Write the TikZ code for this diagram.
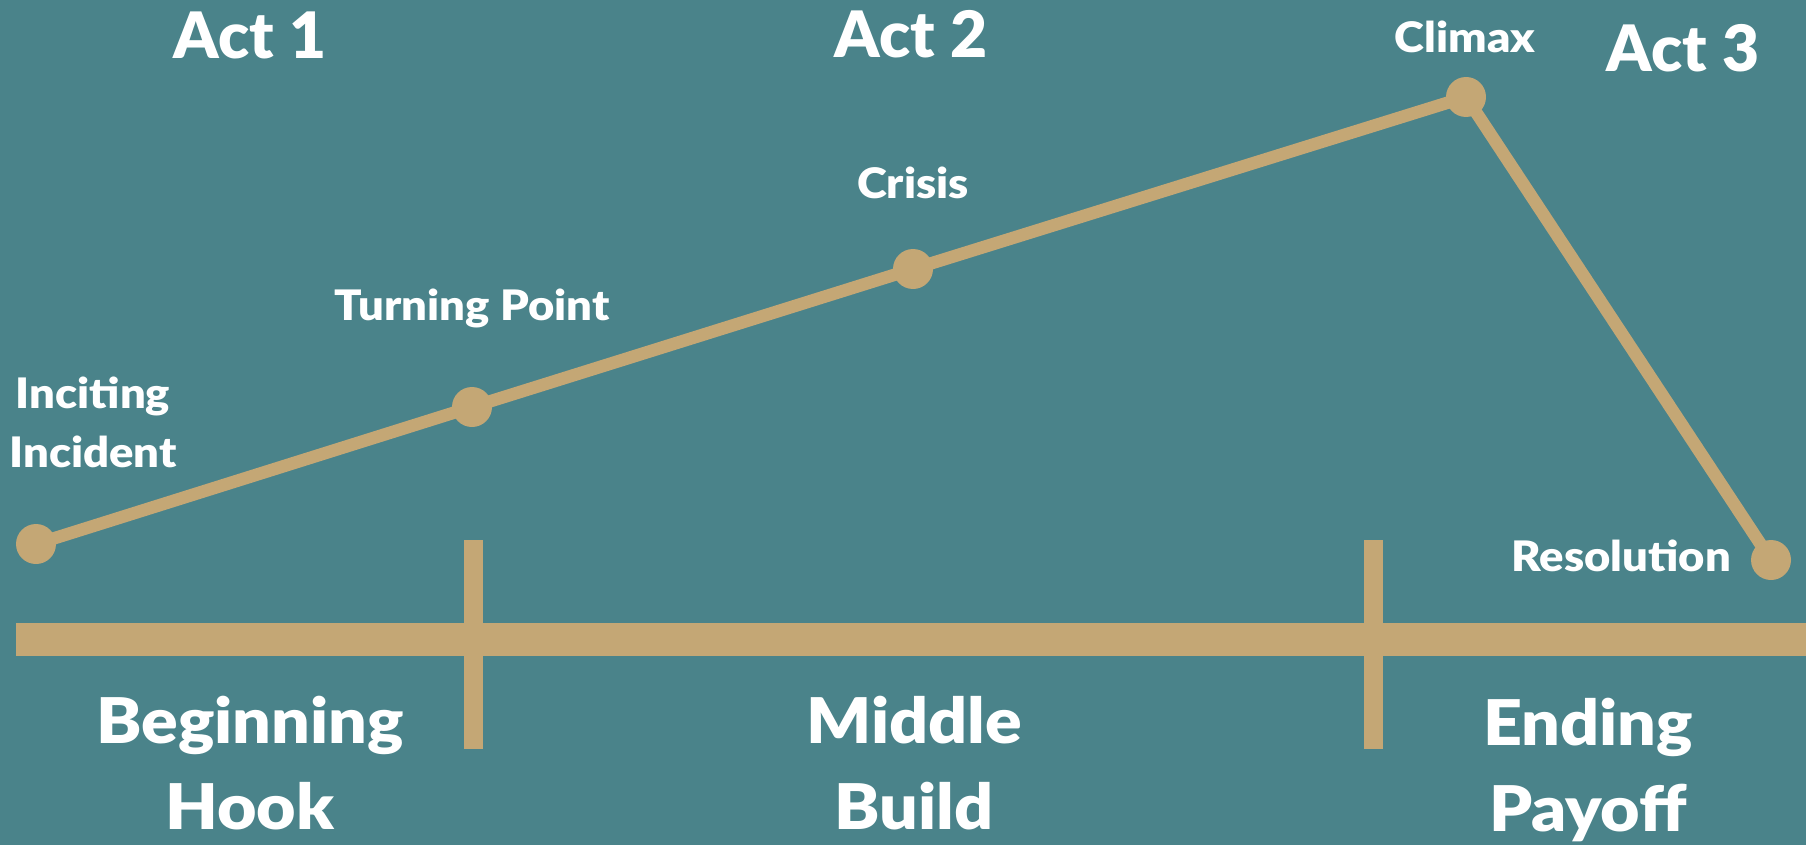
\documentclass[tikz,border=0pt]{standalone}
\usepackage{fontspec}
\setmainfont{Lato Black}
\newfontfamily\wideblack{Lato Black}[FakeStretch=1.08]
\definecolor{teal}{HTML}{4A838A}
\definecolor{gold}{HTML}{C4A775}
\begin{document}
\begin{tikzpicture}[x=1pt,y=-1pt,
  dot/.style={circle,fill=gold,minimum size=40pt,inner sep=0pt},
  arc line/.style={gold,line width=12.5pt},
  small/.style={text=white,font=\wideblack\fontsize{42}{59}\selectfont,inner sep=0pt,anchor=base,align=center},
  big/.style={text=white,font=\fontsize{64}{86}\selectfont,inner sep=0pt,anchor=base,align=center},
  section/.style={big,font=\wideblack\fontsize{63}{86}\selectfont}]
  % background
  \fill[teal] (0,0) rectangle (1806,845);
  \useasboundingbox (0,0) rectangle (1806,845);
  % time axis with act boundaries
  \fill[gold] (16,623) rectangle (1806,656);
  \fill[gold] (464,540) rectangle (483,749);
  \fill[gold] (1364,540) rectangle (1383,749);
  % story points
  \node[dot] (inc) at (36,544) {};
  \node[dot] (turn) at (472,407) {};
  \node[dot] (cri) at (913,269) {};
  \node[dot] (cli) at (1466,97) {};
  \node[dot] (res) at (1771,560) {};
  \draw[arc line] (inc.center) -- (turn.center) -- (cri.center) -- (cli.center) -- (res.center);
  % point labels (base anchor sits on the last line)
  \node[small] (tInc) at (93,467) {Inciting\\Incident};
  \node[small] (tTurn) at (472,320) {Turning Point};
  \node[small] (tCri) at (913,199) {Crisis};
  \node[small] (tCli) at (1465,53) {Climax};
  \node[small,anchor=base east] (tRes) at (1731,571) {Resolution};
  % act headings
  \node[big] (a1) at (250,59) {Act 1};
  \node[big] (a2) at (911,58) {Act 2};
  \node[big] (a3) at (1683,72) {Act 3};
  % section labels
  \node[section] (s1) at (250,829) {Beginning\\Hook};
  \node[section] (s2) at (914,829) {Middle\\Build};
  \node[section] (s3) at (1588,831) {Ending\\Payoff};
\end{tikzpicture}
\end{document}
